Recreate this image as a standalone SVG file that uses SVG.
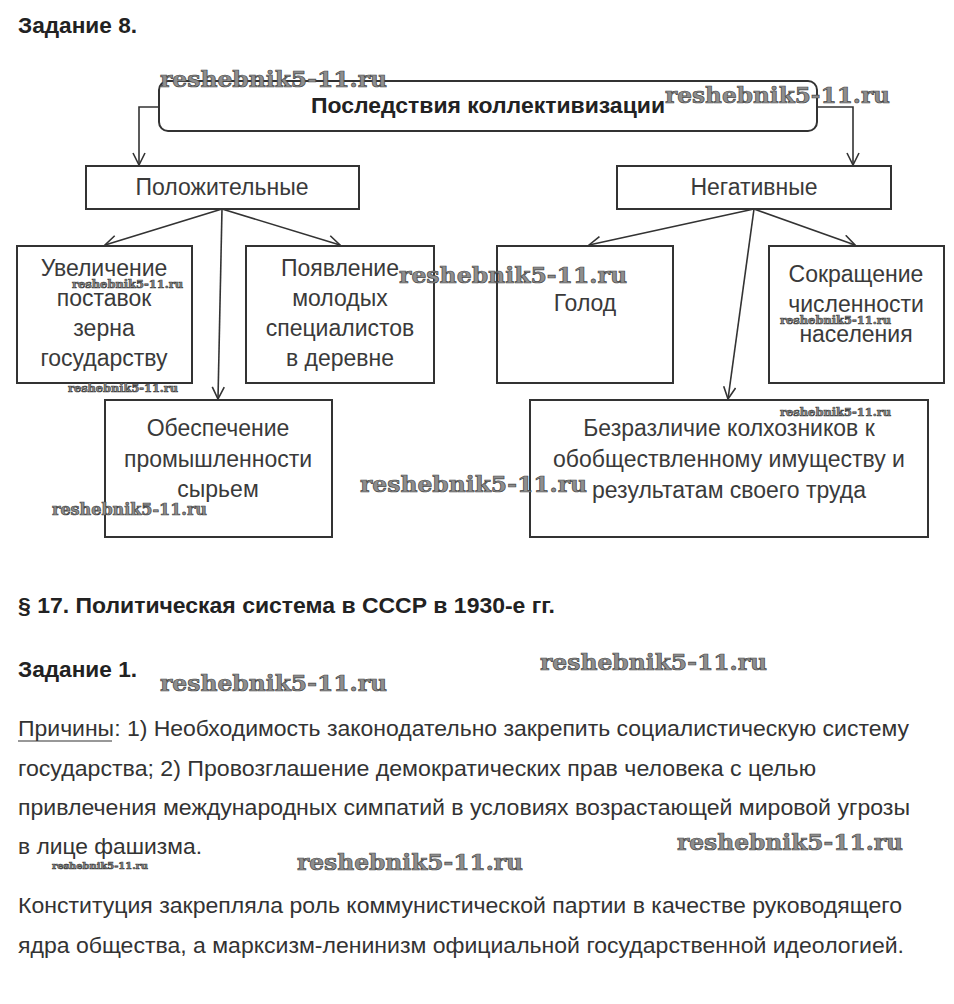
<svg xmlns="http://www.w3.org/2000/svg" width="954" height="1004" viewBox="0 0 954 1004">
<style>
.h{font-family:"Liberation Sans",Arial,sans-serif;font-weight:bold;font-size:22.5px;fill:#222}
.b{fill:#fff;stroke:#333;stroke-width:2}
.t{font-family:"Liberation Sans",Arial,sans-serif;font-size:23px;fill:#3a3a3a;text-anchor:middle}
.p{font-family:"Liberation Sans",Arial,sans-serif;font-size:22.5px;fill:#333}
.c{fill:none;stroke:#333;stroke-width:1.6}
.w{font-family:"DejaVu Serif",serif;font-weight:bold;fill:#8e8e8e;stroke:#444;stroke-width:0.7}
</style>
<defs>
<marker id="ar" viewBox="0 0 14 14" refX="13" refY="7" markerWidth="14" markerHeight="14" markerUnits="userSpaceOnUse" orient="auto">
<path d="M1,1 L13,7 L1,13" fill="none" stroke="#333" stroke-width="1.6"/>
</marker>
</defs>
<rect width="954" height="1004" fill="#fff"/>
<text class="h" x="18" y="33" textLength="119" lengthAdjust="spacingAndGlyphs">Задание 8.</text>

<g id="connectors">
<path class="c" d="M159,107 H139 V165" marker-end="url(#ar)"/>
<path class="c" d="M817,107 H853 V165" marker-end="url(#ar)"/>
<line class="c" x1="222" y1="209" x2="105" y2="245" marker-end="url(#ar)"/>
<line class="c" x1="222" y1="209" x2="340" y2="245" marker-end="url(#ar)"/>
<line class="c" x1="222" y1="209" x2="218" y2="399" marker-end="url(#ar)"/>
<line class="c" x1="754" y1="209" x2="589" y2="245" marker-end="url(#ar)"/>
<line class="c" x1="754" y1="209" x2="855" y2="245" marker-end="url(#ar)"/>
<line class="c" x1="754" y1="209" x2="728" y2="399" marker-end="url(#ar)"/>
</g>

<g id="root">
<rect class="b" x="159" y="81" width="658" height="50" rx="9"/>
<text class="h" x="488" y="113" text-anchor="middle" textLength="354" lengthAdjust="spacingAndGlyphs">Последствия коллективизации</text>
</g>
<g id="pos">
<rect class="b" x="86" y="166" width="273" height="43"/>
<text class="t" x="222" y="195">Положительные</text>
</g>
<g id="neg">
<rect class="b" x="617" y="166" width="274" height="43"/>
<text class="t" x="754" y="195">Негативные</text>
</g>
<g id="p1">
<rect class="b" x="17" y="246" width="175" height="137"/>
<text class="t" x="104" y="276">Увеличение</text>
<text class="t" x="104" y="306">поставок</text>
<text class="t" x="104" y="336">зерна</text>
<text class="t" x="104" y="366">государству</text>
</g>
<g id="p2">
<rect class="b" x="246" y="246" width="188" height="137"/>
<text class="t" x="340" y="276">Появление</text>
<text class="t" x="340" y="306">молодых</text>
<text class="t" x="340" y="336">специалистов</text>
<text class="t" x="340" y="366">в деревне</text>
</g>
<g id="p3">
<rect class="b" x="105" y="400" width="227" height="137"/>
<text class="t" x="218" y="436">Обеспечение</text>
<text class="t" x="218" y="467">промышленности</text>
<text class="t" x="218" y="497">сырьем</text>
</g>
<g id="n1">
<rect class="b" x="497" y="246" width="176" height="137"/>
<text class="t" x="585" y="311">Голод</text>
</g>
<g id="n2">
<rect class="b" x="769" y="246" width="175" height="137"/>
<text class="t" x="856" y="282">Сокращение</text>
<text class="t" x="856" y="312">численности</text>
<text class="t" x="856" y="342">населения</text>
</g>
<g id="n3">
<rect class="b" x="530" y="400" width="398" height="137"/>
<text class="t" x="729" y="436">Безразличие колхозников к</text>
<text class="t" x="729" y="467">обобществленному имуществу и</text>
<text class="t" x="729" y="498">результатам своего труда</text>
</g>

<text class="h" x="18" y="613" textLength="537" lengthAdjust="spacingAndGlyphs">§ 17. Политическая система в СССР в 1930-е гг.</text>
<text class="h" x="18" y="677" textLength="119" lengthAdjust="spacingAndGlyphs">Задание 1.</text>

<text class="p" x="18" y="736" textLength="891" lengthAdjust="spacingAndGlyphs">Причины: 1) Необходимость законодательно закрепить социалистическую систему</text>
<line x1="18" y1="741" x2="112" y2="741" stroke="#333" stroke-width="1.2"/>
<text class="p" x="18" y="776" textLength="798" lengthAdjust="spacingAndGlyphs">государства; 2) Провозглашение демократических прав человека с целью</text>
<text class="p" x="18" y="815" textLength="892" lengthAdjust="spacingAndGlyphs">привлечения международных симпатий в условиях возрастающей мировой угрозы</text>
<text class="p" x="18" y="854" textLength="184" lengthAdjust="spacingAndGlyphs">в лице фашизма.</text>
<text class="p" x="18" y="913" textLength="884" lengthAdjust="spacingAndGlyphs">Конституция закрепляла роль коммунистической партии в качестве руководящего</text>
<text class="p" x="18" y="953" textLength="886" lengthAdjust="spacingAndGlyphs">ядра общества, а марксизм-ленинизм официальной государственной идеологией.</text>

<g id="watermarks">
<text class="w" x="160" y="87" font-size="23" textLength="227" lengthAdjust="spacingAndGlyphs">reshebnik5-11.ru</text>
<text class="w" x="665" y="103" font-size="23" textLength="225" lengthAdjust="spacingAndGlyphs">reshebnik5-11.ru</text>
<text class="w" x="399" y="283" font-size="23" textLength="228" lengthAdjust="spacingAndGlyphs">reshebnik5-11.ru</text>
<text class="w" x="360" y="492" font-size="23" textLength="227" lengthAdjust="spacingAndGlyphs">reshebnik5-11.ru</text>
<text class="w" x="540" y="670" font-size="23" textLength="227" lengthAdjust="spacingAndGlyphs">reshebnik5-11.ru</text>
<text class="w" x="160" y="691" font-size="23" textLength="227" lengthAdjust="spacingAndGlyphs">reshebnik5-11.ru</text>
<text class="w" x="677" y="850" font-size="23" textLength="226" lengthAdjust="spacingAndGlyphs">reshebnik5-11.ru</text>
<text class="w" x="297" y="870" font-size="23" textLength="226" lengthAdjust="spacingAndGlyphs">reshebnik5-11.ru</text>
<text class="w" x="72" y="288" font-size="11.5" stroke-width="0.4" textLength="111" lengthAdjust="spacingAndGlyphs">reshebnik5-11.ru</text>
<text class="w" x="68" y="392" font-size="11.5" stroke-width="0.4" textLength="110" lengthAdjust="spacingAndGlyphs">reshebnik5-11.ru</text>
<text class="w" x="52" y="515" font-size="16" stroke-width="0.5" textLength="155" lengthAdjust="spacingAndGlyphs">reshebnik5-11.ru</text>
<text class="w" x="780" y="324" font-size="11.5" stroke-width="0.4" textLength="111" lengthAdjust="spacingAndGlyphs">reshebnik5-11.ru</text>
<text class="w" x="780" y="416" font-size="11.5" stroke-width="0.4" textLength="111" lengthAdjust="spacingAndGlyphs">reshebnik5-11.ru</text>
<text class="w" x="52" y="869" font-size="10" stroke-width="0.3" textLength="96" lengthAdjust="spacingAndGlyphs">reshebnik5-11.ru</text>
</g>
</svg>
